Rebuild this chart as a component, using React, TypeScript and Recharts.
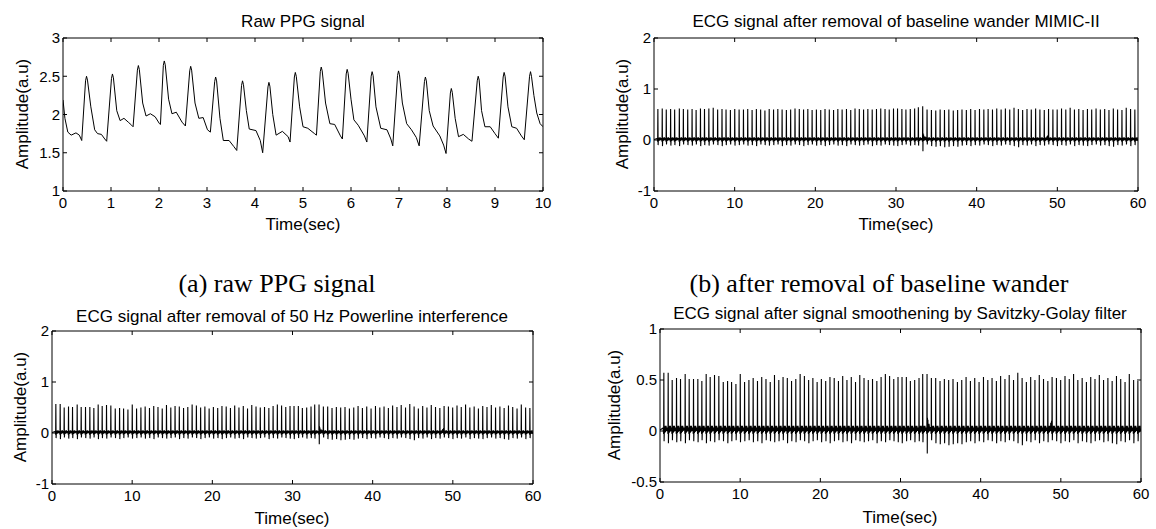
import React from "react";
import { LineChart, Line, XAxis, YAxis } from "recharts";

// Raw PPG (0-10 s)
const ppgTime = [
  0, 0.04, 0.1, 0.17, 0.27, 0.34, 0.39, 0.47, 0.49, 0.51, 0.58, 0.66, 0.72, 0.8, 0.87, 0.91,
  1.01, 1.03, 1.05, 1.12, 1.19, 1.27, 1.36, 1.43, 1.46, 1.55, 1.57, 1.59, 1.66, 1.73, 1.82, 1.92, 2.01, 2.03,
  2.09, 2.11, 2.13, 2.2, 2.27, 2.36, 2.48, 2.55, 2.64, 2.66, 2.68, 2.75, 2.83, 2.92, 3.01, 3.07,
  3.16, 3.18, 3.2, 3.27, 3.34, 3.46, 3.56, 3.62, 3.72, 3.74, 3.76, 3.82, 3.88, 4.02, 4.11, 4.16,
  4.27, 4.29, 4.31, 4.37, 4.44, 4.57, 4.69, 4.73, 4.82, 4.84, 4.86, 4.93, 5.0, 5.1, 5.24, 5.28,
  5.36, 5.38, 5.4, 5.47, 5.56, 5.66, 5.78, 5.82, 5.9, 5.92, 5.94, 6.0, 6.06, 6.15, 6.28, 6.33,
  6.42, 6.44, 6.46, 6.52, 6.62, 6.75, 6.83, 6.87, 6.97, 6.99, 7.01, 7.07, 7.16, 7.26, 7.36, 7.42,
  7.53, 7.55, 7.57, 7.63, 7.71, 7.85, 7.93, 7.98, 8.07, 8.09, 8.11, 8.17, 8.24, 8.34, 8.45, 8.52,
  8.63, 8.65, 8.67, 8.72, 8.79, 8.9, 9.0, 9.07, 9.17, 9.19, 9.21, 9.27, 9.35, 9.45, 9.55, 9.61,
  9.72, 9.74, 9.76, 9.81, 9.87, 9.94, 10.0,
];
const ppgAmp = [
  2.19, 1.95, 1.77, 1.73, 1.76, 1.73, 1.66, 2.44, 2.5, 2.45, 2.1, 1.8, 1.75, 1.74, 1.68, 1.65,
  2.47, 2.53, 2.48, 2.05, 1.92, 1.95, 1.9, 1.86, 1.84, 2.58, 2.64, 2.59, 2.15, 1.98, 2.01, 1.97, 1.88, 1.87,
  2.64, 2.7, 2.65, 2.2, 2.01, 2.03, 1.9, 1.85, 2.57, 2.63, 2.58, 2.15, 1.95, 1.96, 1.8, 1.77,
  2.43, 2.49, 2.44, 1.95, 1.66, 1.66, 1.58, 1.53, 2.38, 2.44, 2.39, 2.05, 1.81, 1.79, 1.66, 1.5,
  2.36, 2.42, 2.37, 2.0, 1.73, 1.78, 1.71, 1.64, 2.49, 2.55, 2.5, 2.1, 1.84, 1.82, 1.75, 1.73,
  2.56, 2.62, 2.57, 2.15, 1.88, 1.87, 1.72, 1.68, 2.53, 2.59, 2.54, 2.2, 1.93, 1.86, 1.72, 1.64,
  2.5, 2.56, 2.51, 2.1, 1.82, 1.8, 1.68, 1.59, 2.51, 2.57, 2.52, 2.15, 1.88, 1.8, 1.7, 1.59,
  2.43, 2.49, 2.44, 2.05, 1.85, 1.72, 1.6, 1.49, 2.28, 2.34, 2.29, 1.95, 1.71, 1.74, 1.68, 1.65,
  2.44, 2.5, 2.45, 2.05, 1.84, 1.84, 1.75, 1.69, 2.49, 2.55, 2.5, 2.1, 1.84, 1.82, 1.72, 1.67,
  2.5, 2.56, 2.5, 2.25, 2.02, 1.88, 1.84,
];

// ECG (0-60 s): R-peak times, shared by the three processed versions
const ecgBeatTimes = [
  0.48, 1.02, 1.52, 2.06, 2.56, 3.14, 3.64, 4.18, 4.72, 5.22, 5.76, 6.26, 6.8, 7.34, 7.89, 8.43, 8.93, 9.47, 10.01, 10.55,
  11.09, 11.62, 12.16, 12.69, 13.22, 13.75, 14.28, 14.82, 15.35, 15.88, 16.41, 16.94, 17.48, 18.01, 18.54, 19.07, 19.6, 20.13, 20.67, 21.2,
  21.73, 22.26, 22.79, 23.32, 23.86, 24.39, 24.92, 25.45, 25.98, 26.51, 27.05, 27.58, 28.11, 28.64, 29.16, 29.69, 30.19, 30.73, 31.23, 31.77,
  32.31, 32.77, 33.31, 33.85, 34.39, 34.93, 35.47, 36.01, 36.55, 37.1, 37.64, 38.18, 38.72, 39.26, 39.8, 40.35, 40.89, 41.42, 41.96, 42.49,
  43.03, 43.56, 44.1, 44.63, 45.17, 45.7, 46.24, 46.77, 47.31, 47.84, 48.38, 48.91, 49.45, 49.98, 50.52, 51.05, 51.59, 52.12, 52.66, 53.19,
  53.73, 54.26, 54.8, 55.33, 55.87, 56.4, 56.94, 57.47, 58.01, 58.54, 59.08, 59.61,
];
// R amplitude after baseline wander removal
const ecgPeaksBaseline = [
  0.61, 0.62, 0.6, 0.61, 0.6, 0.62, 0.61, 0.6, 0.61, 0.59, 0.62, 0.61, 0.62, 0.63, 0.6, 0.61, 0.6, 0.59, 0.61, 0.6,
  0.6, 0.61, 0.59, 0.61, 0.6, 0.58, 0.61, 0.6, 0.61, 0.6, 0.59, 0.6, 0.62, 0.61, 0.6, 0.61, 0.59, 0.6, 0.59, 0.61,
  0.6, 0.59, 0.61, 0.6, 0.61, 0.59, 0.62, 0.61, 0.6, 0.61, 0.6, 0.61, 0.62, 0.61, 0.6, 0.62, 0.62, 0.61, 0.6, 0.61,
  0.62, 0.64, 0.66, 0.6, 0.59, 0.58, 0.6, 0.59, 0.6, 0.58, 0.59, 0.6, 0.59, 0.61, 0.59, 0.61, 0.6, 0.61, 0.6, 0.62,
  0.6, 0.62, 0.6, 0.63, 0.61, 0.59, 0.61, 0.6, 0.62, 0.6, 0.59, 0.61, 0.6, 0.6, 0.62, 0.6, 0.63, 0.6, 0.61, 0.59,
  0.61, 0.6, 0.62, 0.6, 0.61, 0.59, 0.62, 0.6, 0.59, 0.63, 0.61, 0.6,
];
// R amplitude after powerline removal / Savitzky-Golay smoothing
const ecgPeaksFiltered = [
  0.57, 0.57, 0.5, 0.52, 0.51, 0.56, 0.51, 0.51, 0.51, 0.49, 0.56, 0.53, 0.55, 0.54, 0.48, 0.49, 0.48, 0.46, 0.56, 0.48,
  0.5, 0.52, 0.49, 0.53, 0.51, 0.48, 0.55, 0.5, 0.53, 0.52, 0.49, 0.51, 0.56, 0.54, 0.5, 0.52, 0.48, 0.51, 0.49, 0.53,
  0.52, 0.49, 0.54, 0.5, 0.53, 0.48, 0.55, 0.52, 0.5, 0.51, 0.49, 0.53, 0.56, 0.54, 0.51, 0.53, 0.53, 0.53, 0.49, 0.5,
  0.52, 0.56, 0.56, 0.52, 0.52, 0.49, 0.51, 0.5, 0.51, 0.48, 0.5, 0.53, 0.49, 0.52, 0.48, 0.53, 0.5, 0.52, 0.49, 0.54,
  0.51, 0.55, 0.5, 0.57, 0.52, 0.48, 0.53, 0.5, 0.55, 0.51, 0.49, 0.53, 0.52, 0.5, 0.54, 0.51, 0.56, 0.5, 0.52, 0.48,
  0.53, 0.51, 0.55, 0.5, 0.52, 0.49, 0.54, 0.51, 0.48, 0.56, 0.5, 0.49,
];
// S-wave depth after each R peak
const ecgTroughs = [
  -0.1, -0.12, -0.09, -0.11, -0.1, -0.12, -0.09, -0.1, -0.11, -0.09, -0.12, -0.1, -0.11, -0.09, -0.1, -0.12, -0.1, -0.09, -0.11, -0.1,
  -0.09, -0.11, -0.1, -0.12, -0.09, -0.1, -0.11, -0.1, -0.09, -0.12, -0.1, -0.11, -0.09, -0.1, -0.12, -0.1, -0.09, -0.11, -0.1, -0.12,
  -0.1, -0.09, -0.11, -0.1, -0.12, -0.09, -0.1, -0.11, -0.1, -0.09, -0.12, -0.1, -0.11, -0.09, -0.1, -0.11, -0.12, -0.1, -0.09, -0.11,
  -0.1, -0.11, -0.22, -0.09, -0.12, -0.13, -0.12, -0.14, -0.13, -0.12, -0.13, -0.11, -0.1, -0.12, -0.1, -0.11, -0.09, -0.1, -0.12, -0.1,
  -0.11, -0.09, -0.1, -0.12, -0.14, -0.1, -0.11, -0.09, -0.12, -0.1, -0.11, -0.09, -0.1, -0.12, -0.1, -0.11, -0.09, -0.12, -0.1, -0.11,
  -0.12, -0.1, -0.09, -0.11, -0.1, -0.12, -0.13, -0.1, -0.11, -0.09, -0.12, -0.1,
];
// shape of one beat around its R peak (seconds, level); "R" / "S" take the values above
const beatWaveOffsets = [-0.09, -0.05, -0.025, 0, 0.03, 0.07, 0.12, 0.17, 0.22, 0.28, 0.34, 0.4];
const beatWaveLevels: (number | string)[] = [0.03, -0.01, -0.03, "R", "S", 0.03, -0.02, 0.05, -0.01, 0.05, 0.0, 0.03];
// motion artefact near 33 s and small bump near 49 s
const extraTimes = [33.36, 33.42, 33.55, 33.72, 48.74, 48.84];
const extraValues = [0.13, 0.11, 0.07, 0.04, 0.08, 0.1];

const ppgData = ppgTime.map((t, i) => ({ t, v: ppgAmp[i] }));

function buildEcg(peaks: number[]) {
  const pts: { t: number; v: number }[] = [{ t: 0, v: 0.01 }];
  ecgBeatTimes.forEach((bt, i) => {
    beatWaveOffsets.forEach((d, k) => {
      const lv = beatWaveLevels[k];
      const v = lv === "R" ? peaks[i] : lv === "S" ? ecgTroughs[i] : (lv as number);
      pts.push({ t: bt + d, v });
    });
  });
  extraTimes.forEach((t, i) => pts.push({ t, v: extraValues[i] }));
  pts.push({ t: 60, v: 0.01 });
  return pts.filter((p) => p.t <= 60).sort((a, b) => a.t - b.t);
}

const ecgBaselineData = buildEcg(ecgPeaksBaseline);
const ecgFilteredData = buildEcg(ecgPeaksFiltered);

const secTicks10 = [0, 1, 2, 3, 4, 5, 6, 7, 8, 9, 10];
const secTicks60 = [0, 10, 20, 30, 40, 50, 60];

const SANS = 'Arial, "Liberation Sans", Helvetica, sans-serif';
const SERIF = '"Times New Roman", "Liberation Serif", serif';

function Txt({ x, y, size = 17, serif = false, rotate = false, children }: any) {
  return (
    <div
      style={{
        position: "absolute",
        left: x,
        top: y,
        transform: `translate(-50%, -50%)${rotate ? " rotate(-90deg)" : ""}`,
        fontFamily: serif ? SERIF : SANS,
        fontSize: size,
        lineHeight: 1,
        whiteSpace: "nowrap",
        color: "#000",
      }}
    >
      {children}
    </div>
  );
}

const noLabel = () => <g />;

function Panel({ x0, y0, x1, y1, data, xDomain, xTicks, yDomain, yTicks, lineWidth = 1 }: any) {
  const ML = 50;
  const MT = 9; // plus 1px top axis
  const MR = 11; // plus 1px right axis
  const MB = 30;
  const pw = x1 - x0;
  const ph = y1 - y0;
  const tickStyle = { fill: "#000", fontSize: 15, fontFamily: SANS };
  return (
    <div style={{ position: "absolute", left: x0 - ML, top: y0 - MT - 1 }}>
      <LineChart
        width={pw + ML + MR + 1}
        height={ph + MT + 1 + MB}
        data={data}
        margin={{ top: MT, right: MR, bottom: 0, left: 0 }}
      >
        <XAxis
          xAxisId="b"
          dataKey="t"
          type="number"
          domain={xDomain}
          ticks={xTicks}
          interval={0}
          allowDataOverflow
          height={MB}
          stroke="#000"
          tickSize={-4}
          tickMargin={10}
          tick={tickStyle}
        />
        <XAxis
          xAxisId="top"
          orientation="top"
          dataKey="t"
          type="number"
          domain={xDomain}
          ticks={xTicks}
          interval={0}
          allowDataOverflow
          height={1}
          stroke="#000"
          tickSize={-4}
          tick={noLabel}
        />
        <YAxis
          yAxisId="l"
          type="number"
          domain={yDomain}
          ticks={yTicks}
          interval={0}
          allowDataOverflow
          width={ML}
          stroke="#000"
          tickSize={-4}
          tickMargin={7}
          tick={tickStyle}
        />
        <YAxis
          yAxisId="r"
          orientation="right"
          type="number"
          domain={yDomain}
          ticks={yTicks}
          interval={0}
          allowDataOverflow
          width={1}
          stroke="#000"
          tickSize={-4}
          tick={noLabel}
        />
        <Line
          xAxisId="b"
          yAxisId="l"
          type="linear"
          dataKey="v"
          stroke="#000"
          strokeWidth={lineWidth}
          dot={false}
          isAnimationActive={false}
        />
      </LineChart>
    </div>
  );
}

export default function App() {
  return (
    <div
      style={{
        position: "absolute",
        left: 0,
        top: 0,
        width: 1156,
        height: 529,
        background: "#fff",
        overflow: "hidden",
      }}
    >
      <Panel x0={63} y0={38} x1={543} y1={191} data={ppgData} xDomain={[0, 10]} xTicks={secTicks10} yDomain={[1, 3]} yTicks={[1, 1.5, 2, 2.5, 3]} />
      <Txt x={303} y={21}>Raw PPG signal</Txt>
      <Txt x={303} y={224}>Time(sec)</Txt>
      <Txt x={22} y={114} rotate>Amplitude(a.u)</Txt>

      <Panel x0={654} y0={38} x1={1138} y1={191} data={ecgBaselineData} xDomain={[0, 60]} xTicks={secTicks60} yDomain={[-1, 2]} yTicks={[-1, 0, 1, 2]} lineWidth={1.1} />
      <Txt x={896} y={21}>ECG signal after removal of baseline wander MIMIC-II</Txt>
      <Txt x={896} y={224}>Time(sec)</Txt>
      <Txt x={622} y={114} rotate>Amplitude(a.u)</Txt>

      <Txt x={277} y={284} size={26} serif>(a) raw PPG signal</Txt>
      <Txt x={879} y={284} size={26} serif>(b) after removal of baseline wander</Txt>

      <Panel x0={52} y0={331} x1={533} y1={484} data={ecgFilteredData} xDomain={[0, 60]} xTicks={secTicks60} yDomain={[-1, 2]} yTicks={[-1, 0, 1, 2]} lineWidth={1.1} />
      <Txt x={292} y={316}>ECG signal after removal of 50 Hz Powerline interference</Txt>
      <Txt x={292} y={518}>Time(sec)</Txt>
      <Txt x={20} y={407} rotate>Amplitude(a.u)</Txt>

      <Panel x0={660} y0={329} x1={1141} y1={482} data={ecgFilteredData} xDomain={[0, 60]} xTicks={secTicks60} yDomain={[-0.5, 1]} yTicks={[-0.5, 0, 0.5, 1]} lineWidth={1.1} />
      <Txt x={900} y={313}>ECG signal after signal smoothening by Savitzky-Golay filter</Txt>
      <Txt x={900} y={517}>Time(sec)</Txt>
      <Txt x={614} y={405} rotate>Amplitude(a.u)</Txt>
    </div>
  );
}
